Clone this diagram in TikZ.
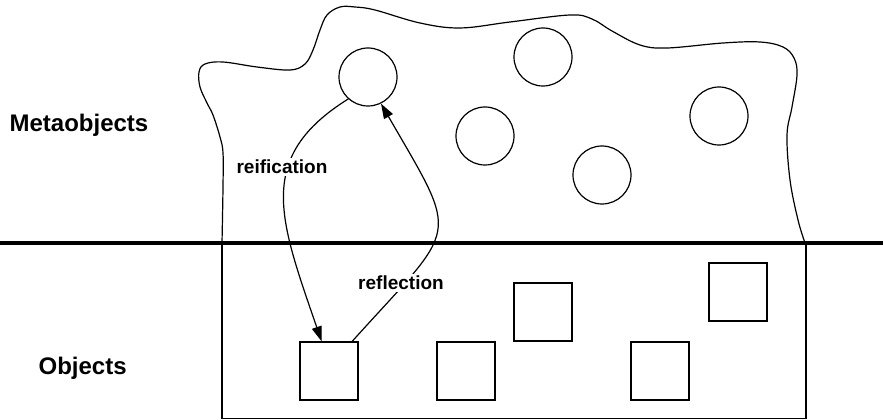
\documentclass[tikz,border=0pt]{standalone}
\usepackage{fontspec}
\setmainfont{Liberation Sans}
\usetikzlibrary{arrows.meta}

\begin{document}
\begin{tikzpicture}[x=1pt,y=1pt,line width=1.2pt,
   meta/.style={draw,circle,minimum size=58pt,inner sep=0pt},
   obj/.style={draw,rectangle,minimum size=58pt,inner sep=0pt},
   side/.style={font=\fontsize{24}{28}\selectfont\bfseries,anchor=base west,inner sep=0pt},
   lbl/.style={font=\fontsize{19}{22}\selectfont\bfseries,fill=white,inner sep=2pt},
   a/.style={-{Triangle[length=15pt,width=10pt]}}]
  \useasboundingbox (0,0) rectangle (883,420);
  % meta level
  \draw plot[smooth,tension=0.6] coordinates {
    (222,177) (223,233) (223,267) (220,283) (213,305) (207,317) (200,333)
    (199,348) (205,356) (223,358) (257,353) (290,350) (305,356) (313,370)
    (320,390) (327,405) (340,413) (355,413) (375,410) (420,397) (460,392)
    (510,398) (570,405) (592,401) (612,389) (640,375) (667,372) (723,377)
    (760,378) (783,373) (794,362) (797,345) (792,313) (787,285) (790,240)
    (798,200) (805,177)};
  % base level
  \draw (222,177) -- (222,1.5) -- (806,1.5) -- (806,177);
  \draw[line width=4pt] (0,177) -- (883,177);
  \node[side] (meta) at (9,288) {Metaobjects};
  \node[side] (base) at (38,45) {Objects};
  \node[meta] (m1) at (368,343) {};
  \node[meta] (m2) at (543,363) {};
  \node[meta] (m3) at (485,284) {};
  \node[meta] (m4) at (602,245) {};
  \node[meta] (m5) at (719,304) {};
  \node[obj] (o1) at (329,49) {};
  \node[obj] (o2) at (466,49) {};
  \node[obj] (o3) at (543,108) {};
  \node[obj] (o4) at (660,49) {};
  \node[obj] (o5) at (738,128) {};
  \draw[a] (m1.228) .. controls +(212:110) and +(109:130) .. (o1.104);
  \draw[a] (o1.52) .. controls +(48:160) and +(300:160) .. (m1.296);
  \node[lbl] (reif) at (282,253) {reification};
  \node[lbl] (refl) at (401,137) {reflection};
\end{tikzpicture}
\end{document}
